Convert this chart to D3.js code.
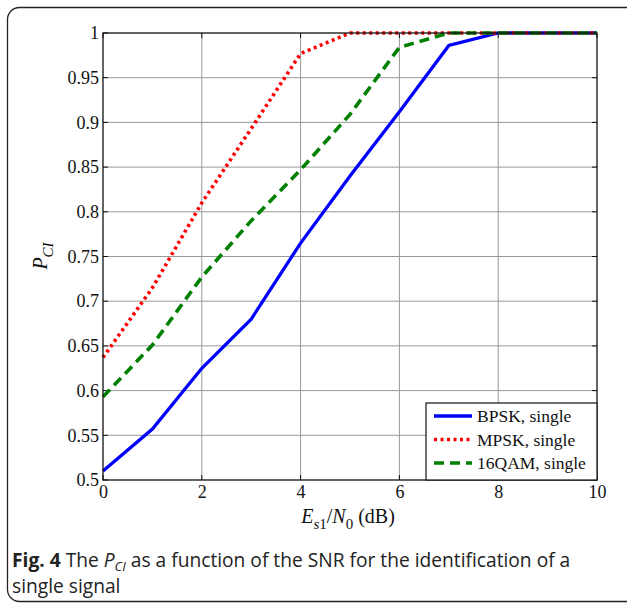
<!DOCTYPE html>
<html><head><meta charset="utf-8">
<script src="https://cdn.jsdelivr.net/npm/d3@7"></script>
<style>body{margin:0;background:#fff;} svg{display:block;}</style>
</head><body>
<svg id="c" width="627" height="605"></svg>
<script>
const snr = [0,1,2,3,4,5,6,7,8,9,10];
const bpsk = [0.51,0.557,0.625,0.68,0.765,0.84,0.912,0.986,1,1,1];
const mpsk = [0.637,0.715,0.81,0.893,0.977,1,1,1,1,1,1];
const qam16 = [0.593,0.651,0.727,0.79,0.847,0.909,0.984,1,1,1,1];
const xTicks = [0,2,4,6,8,10];
const yTicks = [0.5,0.55,0.6,0.65,0.7,0.75,0.8,0.85,0.9,0.95,1];
const seriesNames = ["BPSK, single","MPSK, single","16QAM, single"];

const svg = d3.select("#c");
const L=103,R=597,T=33,B=480;
const x = d3.scaleLinear().domain([0,10]).range([L,R]);
const y = d3.scaleLinear().domain([0.5,1]).range([B,T]);

// outer rounded frame
svg.append("rect").attr("x",7.5).attr("y",7.5).attr("width",640).attr("height",594)
  .attr("rx",12).attr("fill","none").attr("stroke","#222").attr("stroke-width",1.3);

// grid
const g = svg.append("g");
g.selectAll(".gx").data(xTicks.slice(1,-1)).join("line")
  .attr("x1",d=>x(d)).attr("x2",d=>x(d)).attr("y1",T).attr("y2",B)
  .attr("stroke","#999").attr("stroke-width",1);
g.selectAll(".gy").data(yTicks.slice(1,-1)).join("line")
  .attr("y1",d=>y(d)).attr("y2",d=>y(d)).attr("x1",L).attr("x2",R)
  .attr("stroke","#999").attr("stroke-width",1);

// axes
const fontT = "'Liberation Serif','Times New Roman',serif";
const ax = svg.append("g").attr("transform",`translate(0,${B})`)
  .call(d3.axisBottom(x).tickValues(xTicks).tickSize(0).tickPadding(5).tickFormat(d3.format("d")));
const ay = svg.append("g").attr("transform",`translate(${L},0)`)
  .call(d3.axisLeft(y).tickValues(yTicks).tickSize(0).tickPadding(4).tickFormat(d=>String(+d.toFixed(2))));
[ax,ay].forEach(a=>{a.select(".domain").remove();
  a.selectAll("text").attr("font-family",fontT).attr("font-size",18).attr("fill","#111");});
// tick marks inside (all four sides)
const tk = svg.append("g").attr("stroke","#111").attr("stroke-width",1);
xTicks.forEach(d=>{tk.append("line").attr("x1",x(d)).attr("x2",x(d)).attr("y1",B).attr("y2",B-5);
  tk.append("line").attr("x1",x(d)).attr("x2",x(d)).attr("y1",T).attr("y2",T+5);});
yTicks.forEach(d=>{tk.append("line").attr("y1",y(d)).attr("y2",y(d)).attr("x1",L).attr("x2",L+5);
  tk.append("line").attr("y1",y(d)).attr("y2",y(d)).attr("x1",R).attr("x2",R-5);});

// data lines
const line = d3.line().x((d,i)=>x(snr[i])).y(d=>y(d));
const styles = [
  {data:bpsk,color:"#0000ff",dash:null,w:3.3},
  {data:mpsk,color:"#ff0000",dash:"3,3.5",w:3.6},
  {data:qam16,color:"#008000",dash:"10,6",w:3.6}
];
styles.forEach(s=>{
  svg.append("path").datum(s.data).attr("d",line).attr("fill","none")
    .attr("stroke",s.color).attr("stroke-width",s.w).attr("stroke-dasharray",s.dash)
    .attr("stroke-linejoin","miter");
});

// box
svg.append("rect").attr("x",L).attr("y",T).attr("width",R-L).attr("height",B-T)
  .attr("fill","none").attr("stroke","#111").attr("stroke-width",1.3);

// legend
const lg = svg.append("g");
lg.append("rect").attr("x",426).attr("y",403).attr("width",R-426).attr("height",B-403)
  .attr("fill","#fff").attr("stroke","#111").attr("stroke-width",1.2);
styles.forEach((s,i)=>{
  const yy = 416 + i*23.5;
  lg.append("line").attr("x1",434).attr("x2",472).attr("y1",yy).attr("y2",yy)
    .attr("stroke",s.color).attr("stroke-width",s.w).attr("stroke-dasharray",s.dash);
  lg.append("text").attr("x",477).attr("y",yy+6).attr("font-family",fontT).attr("font-size",17.5)
    .attr("fill","#111").text(seriesNames[i]);
});

// x label
const xl = svg.append("text").attr("x",348).attr("y",523).attr("text-anchor","middle")
  .attr("font-family",fontT).attr("font-size",20).attr("fill","#111");
xl.append("tspan").attr("font-style","italic").text("E");
xl.append("tspan").attr("font-style","italic").attr("font-size",15).attr("dy",6).text("s");
xl.append("tspan").attr("font-size",15).text("1");
xl.append("tspan").attr("dy",-6).text("/");
xl.append("tspan").attr("font-style","italic").text("N");
xl.append("tspan").attr("font-size",15).attr("dy",6).text("0");
xl.append("tspan").attr("dy",-6).text(" (dB)");

// y label
const yl = svg.append("text").attr("transform","translate(47,256) rotate(-90)").attr("text-anchor","middle")
  .attr("font-family",fontT).attr("font-size",20).attr("font-style","italic").attr("fill","#111");
yl.append("tspan").text("P");
yl.append("tspan").attr("font-size",15).attr("dy",6).text("CI");

// caption
const fontC = "'Open Sans','Noto Sans',sans-serif";
const c1 = svg.append("text").attr("x",12).attr("y",567).attr("font-family",fontC).attr("font-size",19.2).attr("fill","#222");
c1.append("tspan").attr("font-weight","bold").text("Fig. 4");
c1.append("tspan").text(" The ");
c1.append("tspan").attr("font-style","italic").text("P");
c1.append("tspan").attr("font-style","italic").attr("font-size",13).attr("dy",4).text("CI");
c1.append("tspan").attr("dy",-4).text(" as a function of the SNR for the identification of a");
svg.append("text").attr("x",12).attr("y",593).attr("font-family",fontC).attr("font-size",19.2).attr("fill","#222")
  .text("single signal");
</script>
</body></html>
